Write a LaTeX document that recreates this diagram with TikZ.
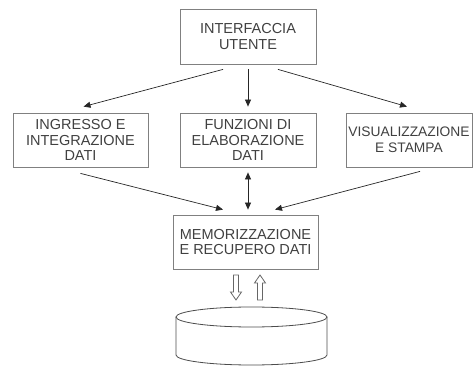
\documentclass[tikz,border=0pt]{standalone}
\usepackage{fontspec}
\setmainfont{Liberation Sans}
\usetikzlibrary{arrows.meta}

\begin{document}
\begin{tikzpicture}[x=1pt,y=1pt,
  blockbox/.style={draw=black!50, text=black!75, align=center, inner sep=0pt,
    font=\fontsize{14.5}{15.5}\selectfont, line width=0.8pt, minimum height=54},
  arr/.style={-{Triangle[length=7pt,width=6pt]}, line width=0.7pt, black!85},
  hollow/.style={draw=black!60, line width=0.8pt, fill=white}]
\useasboundingbox (0,0) rectangle (474,367);
% boxes
\node[blockbox, minimum width=136, minimum height=55] (ui) at (248,330.5) {INTERFACCIA\\UTENTE};
\node[blockbox, minimum width=135] (ingresso) at (80.5,227) {INGRESSO E\\INTEGRAZIONE\\DATI};
\node[blockbox, minimum width=136] (elab) at (248,227) {FUNZIONI DI\\ELABORAZIONE\\DATI};
\node[blockbox, minimum width=126, font=\fontsize{13.8}{15.5}\selectfont] (visual) at (409,227) {VISUALIZZAZIONE\\E STAMPA};
\node[blockbox, minimum width=145] (memo) at (245.5,125) {MEMORIZZAZIONE\\E RECUPERO DATI};
% arrows
\draw[arr] ([xshift=-25pt,yshift=-5pt]ui.south) -- ([xshift=3pt,yshift=6pt]ingresso.north);
\draw[arr] ([yshift=-5pt]ui.south) -- ([yshift=6pt]elab.north);
\draw[arr] ([xshift=30pt,yshift=-5pt]ui.south) -- ([xshift=-2pt,yshift=6pt]visual.north);
\draw[arr] ([yshift=-6pt]ingresso.south) -- ([xshift=-22.5pt,yshift=5pt]memo.north);
\draw[arr, {Triangle[length=7pt,width=6pt]}-{Triangle[length=7pt,width=6pt]}] ([yshift=-5pt]elab.south) -- ([xshift=2.5pt,yshift=5pt]memo.north);
\draw[arr] ([xshift=11pt,yshift=-4pt]visual.south) -- ([xshift=29.5pt,yshift=5pt]memo.north);
% hollow arrows
\draw[hollow] (233.5,92) -- (238.5,92) -- (238.5,75) -- (241.5,75) -- (236,67) -- (230.5,75) -- (233.5,75) -- cycle;
\draw[hollow] (260,92) -- (265.5,84) -- (262.5,84) -- (262.5,67) -- (257.5,67) -- (257.5,84) -- (254.5,84) -- cycle;
% archive
\draw[black!70, line width=0.8pt] (176,50) -- (176,12) arc (180:360:75.5 and 10) -- (327,50);
\draw[black!70, line width=0.8pt] (251.5,50) ellipse (75.5 and 10);
\end{tikzpicture}
\end{document}
